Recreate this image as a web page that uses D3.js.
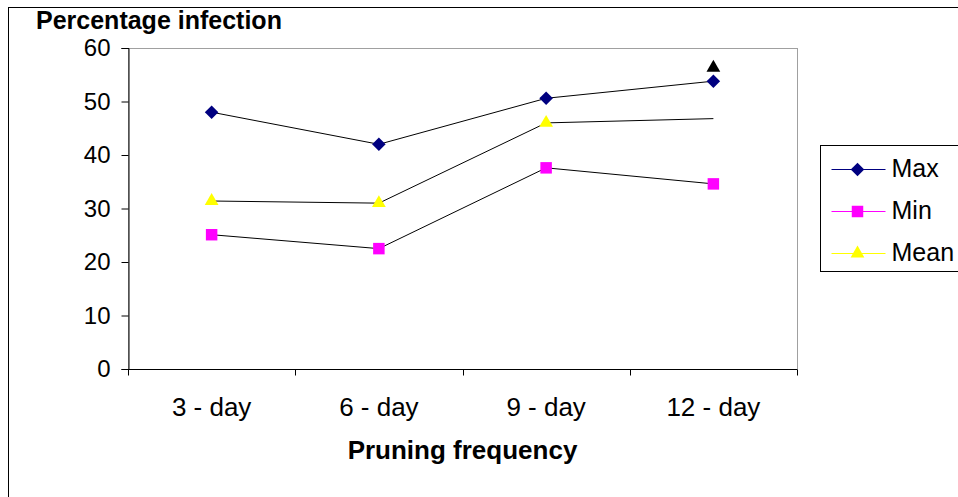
<!DOCTYPE html>
<html>
<head>
<meta charset="utf-8">
<script src="https://cdn.jsdelivr.net/npm/d3@7"></script>
<style>
  body { margin: 0; background: #fff; }
  svg { font-family: "Liberation Sans", Arial, sans-serif; }
</style>
</head>
<body>
<div class="chart"></div>
<script>
// datos
var categories = ["3 - day", "6 - day", "9 - day", "12 - day"];
var maxValues = [48, 42, 50.6, 53.8];
var minValues = [25.1, 22.5, 37.6, 34.6];
var meanValues = [31.4, 31.0, 46.0, 46.8];
var strayMean = [null, null, null, 56.3];   // triángulo negro suelto en 12 - day
var yTicks = [0, 10, 20, 30, 40, 50, 60];

var W = 958, H = 497;
var margin = {top: 48, right: 161, bottom: 128, left: 128};
var w = W - margin.left - margin.right;
var h = H - margin.top - margin.bottom;

var svg = d3.select(".chart").append("svg")
    .attr("width", W).attr("height", H);

// borde exterior
svg.append("rect")
    .attr("x", 8.5).attr("y", 7.5)
    .attr("width", W + 10).attr("height", H + 10)
    .attr("fill", "none").attr("stroke", "#000");

var mainG = svg.append("g")
    .attr("transform", "translate(" + margin.left + "," + margin.top + ")");

var x = d3.scaleBand().domain(categories).range([0, w]);
var y = d3.scaleLinear().domain([0, 60]).range([h, 0]);
var cx = function(i) { return x(categories[i]) + x.bandwidth() / 2; };

// marco del área de dibujo
mainG.append("rect")
    .attr("x", 0.5).attr("y", 0.5)
    .attr("width", w).attr("height", h)
    .attr("fill", "none").attr("stroke", "#a0a0a0");

var yAxis = d3.axisLeft(y).tickValues(yTicks).tickSize(7).tickPadding(11);
mainG.append("g").attr("class", "y axis")
    .attr("transform", "translate(0.5,0)")
    .call(yAxis);

// eje x: marcas entre categorías
var xAxisG = mainG.append("g").attr("class", "x axis")
    .attr("transform", "translate(0," + (h + 0.5) + ")");
xAxisG.append("line").attr("x1", 0).attr("x2", w).attr("stroke", "#000");
xAxisG.selectAll(".tk")
    .data(categories.concat(["end"]))
    .enter().append("line")
    .attr("x1", function(d, i) { return Math.round(i * x.step()) + 0.5; })
    .attr("x2", function(d, i) { return Math.round(i * x.step()) + 0.5; })
    .attr("y1", 0).attr("y2", 6).attr("stroke", "#000");
xAxisG.selectAll(".lbl")
    .data(categories)
    .enter().append("text")
    .attr("x", function(d, i) { return cx(i); })
    .attr("y", 46)
    .attr("text-anchor", "middle")
    .attr("font-size", 26)
    .text(function(d) { return d; });

mainG.selectAll(".y.axis path").attr("stroke", "#000");
mainG.selectAll(".y.axis line").attr("stroke", "#000");
mainG.selectAll(".y.axis text").attr("font-size", 24).attr("fill", "#000")
    .attr("font-family", "Liberation Sans, Arial, sans-serif");

// títulos
svg.append("text").attr("x", 36).attr("y", 28.5)
    .attr("font-size", 25).attr("font-weight", "bold")
    .text("Percentage infection");
svg.append("text").attr("x", margin.left + w / 2).attr("y", 459)
    .attr("text-anchor", "middle")
    .attr("font-size", 26).attr("font-weight", "bold")
    .text("Pruning frequency");

var line = d3.line()
    .x(function(d, i) { return cx(i); })
    .y(function(d) { return y(d); });

var series = [
  {name: "Max", values: maxValues, color: "#000080", shape: d3.symbolSquare, size: 92, rot: 45},
  {name: "Min", values: minValues, color: "#ff00ff", shape: d3.symbolSquare, size: 132, rot: 0},
  {name: "Mean", values: meanValues, color: "#ffff00", shape: d3.symbolTriangle, size: 82, rot: 0}
];

series.forEach(function(s) {
  mainG.append("path")
      .datum(s.values)
      .attr("d", line)
      .attr("fill", "none")
      .attr("stroke", "#000")
      .attr("stroke-width", 1);
});

series.forEach(function(s) {
  mainG.selectAll(".m-" + s.name)
      .data(s.values.map(function(v, i) { return {v: v, i: i}; })
                    .filter(function(d) { return !(s.name === "Mean" && d.i === 3); }))
      .enter().append("path")
      .attr("transform", function(d) {
        return "translate(" + cx(d.i) + "," + y(d.v) + ") rotate(" + s.rot + ")";
      })
      .attr("d", d3.symbol().type(s.shape).size(s.size))
      .attr("fill", s.color);
});

mainG.selectAll(".stray")
    .data(strayMean.map(function(v, i) { return {v: v, i: i}; }).filter(function(d) { return d.v !== null; }))
    .enter().append("path")
    .attr("transform", function(d) { return "translate(" + cx(d.i) + "," + y(d.v) + ")"; })
    .attr("d", d3.symbol().type(d3.symbolTriangle).size(82))
    .attr("fill", "#000");

// leyenda
var legend = svg.append("g").attr("transform", "translate(820.5,145.5)");
legend.append("rect").attr("width", 160).attr("height", 126)
    .attr("fill", "#fff").attr("stroke", "#000");
series.forEach(function(s, i) {
  var ly = 24 + i * 42;
  legend.append("line").attr("x1", 11).attr("x2", 65)
      .attr("y1", ly).attr("y2", ly).attr("stroke", s.color);
  legend.append("path")
      .attr("transform", "translate(37," + ly + ") rotate(" + s.rot + ")")
      .attr("d", d3.symbol().type(s.shape).size(s.size))
      .attr("fill", s.color);
  legend.append("text").attr("x", 71).attr("y", ly + 7)
      .attr("font-size", 25).text(s.name);
});
</script>
</body>
</html>
